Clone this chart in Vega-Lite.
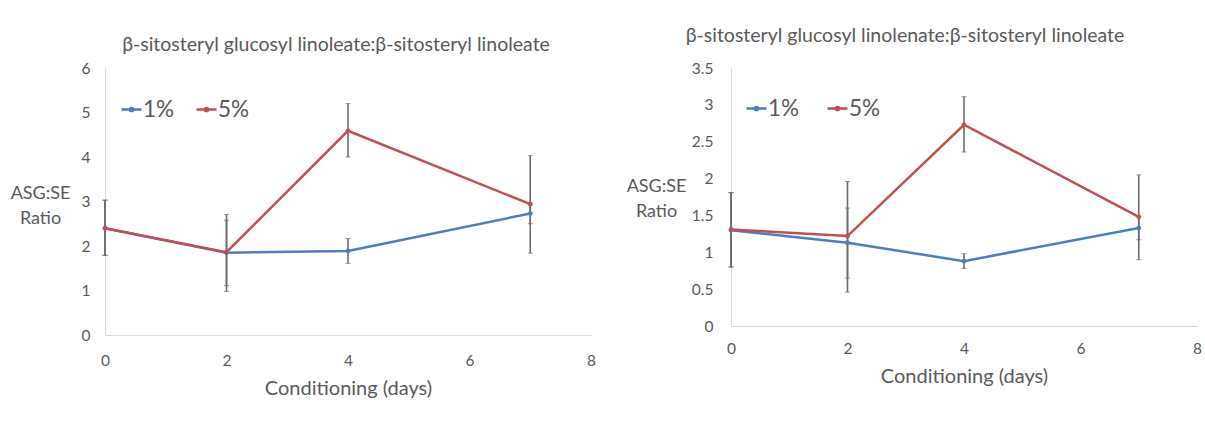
{
  "$schema": "https://vega.github.io/schema/vega-lite/v6.json",
  "autosize": {"type": "none"},
  "padding": {"left": 105, "top": 68, "right": 1100, "bottom": 368},
  "background": "white",
  "datasets": {
    "linoleate": [
      {"day": 0, "conc": "1%", "value": 2.40, "lo": 1.79, "hi": 3.03},
      {"day": 2, "conc": "1%", "value": 1.85, "lo": 1.11, "hi": 2.58},
      {"day": 4, "conc": "1%", "value": 1.89, "lo": 1.61, "hi": 2.17},
      {"day": 7, "conc": "1%", "value": 2.73, "lo": 2.50, "hi": 2.96},
      {"day": 0, "conc": "5%", "value": 2.40, "lo": 1.79, "hi": 3.03},
      {"day": 2, "conc": "5%", "value": 1.86, "lo": 0.98, "hi": 2.71},
      {"day": 4, "conc": "5%", "value": 4.59, "lo": 4.00, "hi": 5.20},
      {"day": 7, "conc": "5%", "value": 2.94, "lo": 1.84, "hi": 4.03}
    ],
    "linolenate": [
      {"day": 0, "conc": "1%", "value": 1.30, "lo": 0.80, "hi": 1.81},
      {"day": 2, "conc": "1%", "value": 1.13, "lo": 0.65, "hi": 1.60},
      {"day": 4, "conc": "1%", "value": 0.88, "lo": 0.78, "hi": 0.98},
      {"day": 7, "conc": "1%", "value": 1.33, "lo": 1.17, "hi": 1.49},
      {"day": 0, "conc": "5%", "value": 1.31, "lo": 0.80, "hi": 1.81},
      {"day": 2, "conc": "5%", "value": 1.22, "lo": 0.46, "hi": 1.96},
      {"day": 4, "conc": "5%", "value": 2.73, "lo": 2.36, "hi": 3.11},
      {"day": 7, "conc": "5%", "value": 1.48, "lo": 0.90, "hi": 2.05}
    ]
  },
  "config": {
    "font": "Lato",
    "view": {"stroke": null},
    "axis": {
      "grid": false,
      "ticks": false,
      "domainColor": "#d9d9d9",
      "domainWidth": 1,
      "labelColor": "#595959",
      "labelFontSize": 15.5,
      "labelFlush": false,
      "labelOverlap": false,
      "titleColor": "#595959",
      "titleFontWeight": "normal",
      "titleFont": "Lato"
    },
    "legend": {
      "labelColor": "#595959",
      "labelFontSize": 22.5,
      "labelFont": "Lato"
    },
    "title": {
      "color": "#595959",
      "fontWeight": "normal",
      "fontSize": 19.5,
      "font": "Lato",
      "anchor": "middle"
    }
  },
  "spacing": 140,
  "bounds": "flush",
  "resolve": {
    "scale": {"x": "independent", "y": "independent"},
    "legend": {"color": "independent"}
  },
  "hconcat": [
    {
      "width": 486,
      "height": 267,
      "title": {"text": "β-sitosteryl glucosyl linoleate:β-sitosteryl  linoleate", "dx": -12, "offset": 6},
      "data": {"name": "linoleate"},
      "encoding": {
        "x": {
          "field": "day", "type": "quantitative",
          "scale": {"domain": [0, 8], "nice": false},
          "axis": {"values": [0, 2, 4, 6, 8], "title": "Conditioning (days)", "titleFontSize": 20, "labelPadding": 18, "titlePadding": 10}
        }
      },
      "layer": [
        {
          "mark": {"type": "errorbar", "ticks": {"size": 5, "color": "#6b6b6b"}, "rule": {"color": "#6b6b6b", "strokeWidth": 1.6}},
          "encoding": {
            "y": {
              "field": "lo", "type": "quantitative",
              "scale": {"domain": [0, 6], "nice": false},
              "axis": {
                "values": [0, 1, 2, 3, 4, 5, 6], "labelPadding": 15,
                "title": ["ASG:SE", "Ratio"], "titleAngle": 0, "titleAlign": "center", "titleBaseline": "middle",
                "titleX": -65, "titleY": 125, "titleFontSize": 18, "titleLineHeight": 25
              }
            },
            "y2": {"field": "hi"}
          }
        },
        {
          "mark": {"type": "line", "strokeWidth": 2.5, "point": {"size": 22, "filled": true}},
          "encoding": {
            "y": {
              "field": "value", "type": "quantitative",
              "axis": {
                "values": [0, 1, 2, 3, 4, 5, 6], "labelPadding": 15,
                "title": ["ASG:SE", "Ratio"], "titleAngle": 0, "titleAlign": "center", "titleBaseline": "middle",
                "titleX": -65, "titleY": 125, "titleFontSize": 18, "titleLineHeight": 25
              }
            },
            "color": {
              "field": "conc", "type": "nominal",
              "scale": {"domain": ["1%", "5%"], "range": ["#4a7ebf", "#c0504d"]},
              "legend": {
                "title": null, "orient": "none", "direction": "horizontal",
                "legendX": 15, "legendY": 30, "columnPadding": 16, "labelOffset": 0,
                "symbolType": "M-1,0H1M0.16,0A0.16,0.16,0,1,1,-0.16,0A0.16,0.16,0,1,1,0.16,0",
                "symbolSize": 400, "symbolStrokeWidth": 2.5
              }
            }
          }
        }
      ]
    },
    {
      "width": 466,
      "height": 258,
      "title": {"text": "β-sitosteryl glucosyl linolenate:β-sitosteryl linoleate", "dx": -59, "offset": 15},
      "data": {"name": "linolenate"},
      "encoding": {
        "x": {
          "field": "day", "type": "quantitative",
          "scale": {"domain": [0, 8], "nice": false},
          "axis": {"values": [0, 2, 4, 6, 8], "title": "Conditioning (days)", "titleFontSize": 20, "labelPadding": 15, "titlePadding": 10}
        }
      },
      "layer": [
        {
          "mark": {"type": "errorbar", "ticks": {"size": 5, "color": "#6b6b6b"}, "rule": {"color": "#6b6b6b", "strokeWidth": 1.6}},
          "encoding": {
            "y": {
              "field": "lo", "type": "quantitative",
              "scale": {"domain": [0, 3.5], "nice": false},
              "axis": {
                "values": [0, 0.5, 1, 1.5, 2, 2.5, 3, 3.5], "format": "~g", "labelPadding": 18,
                "title": ["ASG:SE", "Ratio"], "titleAngle": 0, "titleAlign": "center", "titleBaseline": "middle",
                "titleX": -75, "titleY": 118, "titleFontSize": 18, "titleLineHeight": 25
              }
            },
            "y2": {"field": "hi"}
          }
        },
        {
          "mark": {"type": "line", "strokeWidth": 2.5, "point": {"size": 22, "filled": true}},
          "encoding": {
            "y": {
              "field": "value", "type": "quantitative",
              "axis": {
                "values": [0, 0.5, 1, 1.5, 2, 2.5, 3, 3.5], "format": "~g", "labelPadding": 18,
                "title": ["ASG:SE", "Ratio"], "titleAngle": 0, "titleAlign": "center", "titleBaseline": "middle",
                "titleX": -75, "titleY": 118, "titleFontSize": 18, "titleLineHeight": 25
              }
            },
            "color": {
              "field": "conc", "type": "nominal",
              "scale": {"domain": ["1%", "5%"], "range": ["#4a7ebf", "#c0504d"]},
              "legend": {
                "title": null, "orient": "none", "direction": "horizontal",
                "legendX": 14, "legendY": 29, "columnPadding": 22, "labelOffset": 0,
                "symbolType": "M-1,0H1M0.16,0A0.16,0.16,0,1,1,-0.16,0A0.16,0.16,0,1,1,0.16,0",
                "symbolSize": 400, "symbolStrokeWidth": 2.5
              }
            }
          }
        }
      ]
    }
  ]
}
